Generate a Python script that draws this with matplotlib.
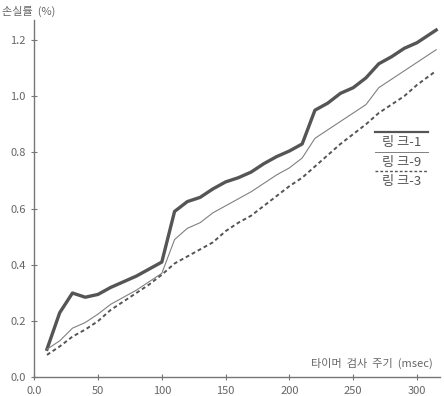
import matplotlib
matplotlib.use('Agg')
import matplotlib.pyplot as plt
from matplotlib.lines import Line2D

plt.rcParams['font.family'] = ['Noto Sans CJK KR', 'DejaVu Sans']

# timer check period (msec)
period = [10, 20, 30, 40, 50, 60, 70, 80, 90, 100,
          110, 120, 130, 140, 150, 160, 170, 180, 190, 200,
          210, 220, 230, 240, 250, 260, 270, 280, 290, 300, 315]

loss_link1 = [0.10, 0.23, 0.30, 0.285, 0.295, 0.32, 0.34, 0.36, 0.385, 0.41,
              0.59, 0.625, 0.64, 0.67, 0.695, 0.71, 0.73, 0.76, 0.785, 0.805,
              0.83, 0.95, 0.975, 1.01, 1.03, 1.065, 1.115, 1.14, 1.17, 1.19, 1.235]

loss_link9 = [0.10, 0.13, 0.175, 0.195, 0.225, 0.26, 0.285, 0.31, 0.34, 0.37,
              0.49, 0.53, 0.55, 0.585, 0.61, 0.635, 0.66, 0.69, 0.72, 0.745,
              0.78, 0.85, 0.88, 0.91, 0.94, 0.97, 1.03, 1.06, 1.09, 1.12, 1.165]

loss_link3 = [0.08, 0.11, 0.145, 0.17, 0.20, 0.24, 0.27, 0.30, 0.33, 0.365,
              0.405, 0.43, 0.455, 0.48, 0.52, 0.55, 0.575, 0.61, 0.645, 0.68,
              0.71, 0.75, 0.79, 0.83, 0.865, 0.90, 0.94, 0.97, 1.00, 1.04, 1.09]

labels = ['링 크-1', '링 크-9', '링 크-3']
x_ticks = [0, 50, 100, 150, 200, 250, 300]
x_ticklabels = ['0.0', '50', '100', '150', '200', '250', '300']
y_ticks = [0.0, 0.2, 0.4, 0.6, 0.8, 1.0, 1.2]

gray = '#555555'
text_gray = '#666666'

fig = plt.figure(figsize=(4.44, 3.96), dpi=100)
ax = fig.add_axes([0.077, 0.047, 0.914, 0.902])

styles = [
    dict(color=gray, linewidth=2.4, linestyle='-'),
    dict(color='#808080', linewidth=0.8, linestyle='-'),
    dict(color='#555555', linewidth=1.4, linestyle=(0, (2, 1.5))),
]
for ys, st in zip([loss_link1, loss_link9, loss_link3], styles):
    ax.plot(period, ys, solid_joinstyle='round', **st)

ax.set_xlim(0, 318)
ax.set_ylim(0, 1.27)
ax.set_xticks(x_ticks)
ax.set_xticklabels(x_ticklabels)
ax.set_yticks(y_ticks)
ax.set_yticklabels([f'{v:.1f}' for v in y_ticks])
ax.tick_params(direction='inout', length=5, width=0.8, colors='#777777',
               labelcolor=text_gray, labelsize=8)
for side in ['top', 'right']:
    ax.spines[side].set_visible(False)
for side in ['left', 'bottom']:
    ax.spines[side].set_color('#777777')
    ax.spines[side].set_linewidth(1.0)

# axis titles
fig.text(0.005, 0.97, '손실률  (%)', fontsize=8, color=text_gray, va='center', ha='left')
fig.text(0.975, 0.081, '타이머  검사  주기  (msec)', fontsize=8, color=text_gray,
         va='center', ha='right')

# legend: sample line above each label
leg_x0, leg_x1 = 0.845, 0.964
leg_y = [0.641, 0.591, 0.543]
leg_widths = [1.6, 0.7, 1.0]
for lab, yy, st, lw in zip(labels, leg_y, styles, leg_widths):
    st = dict(st, linewidth=lw)
    ln = Line2D([leg_x0, leg_x1], [yy + 0.025, yy + 0.025], transform=fig.transFigure, **st)
    fig.lines.append(ln)
    fig.text((leg_x0 + leg_x1) / 2, yy - 0.002, lab, fontsize=9.5, color='#555555',
             ha='center', va='center')

fig.savefig('out.png', dpi=100)
